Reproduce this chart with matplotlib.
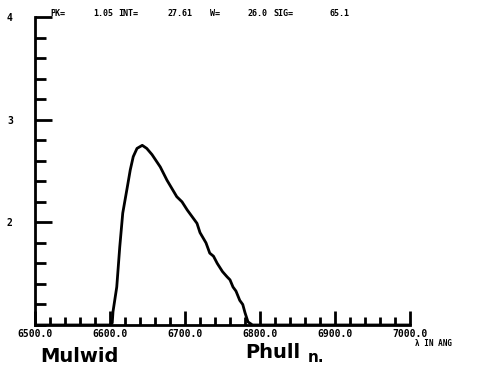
import numpy as np
import matplotlib.pyplot as plt
from matplotlib.ticker import MultipleLocator, FixedLocator

lam = [6500, 6560, 6600, 6603, 6604, 6609, 6613, 6617, 6623, 6627, 6631, 6636,
       6643, 6649, 6656, 6667, 6676, 6689, 6696, 6703, 6711, 6716, 6720, 6728,
       6733, 6738, 6743, 6750, 6756, 6760, 6764, 6768, 6773, 6777, 6780, 6784,
       6790, 6850, 7000]
inten = [1.0, 1.0, 1.0, 1.02, 1.13, 1.37, 1.76, 2.09, 2.34, 2.51, 2.64, 2.72,
         2.75, 2.72, 2.66, 2.54, 2.41, 2.25, 2.20, 2.12, 2.04, 1.99, 1.90, 1.80,
         1.70, 1.67, 1.60, 1.52, 1.47, 1.44, 1.37, 1.33, 1.24, 1.20, 1.12, 1.03,
         1.0, 1.0, 1.0]
ylabels = ["2", "3", "4"]
xlabels = ["6500.0", "6600.0", "6700.0", "6800.0", "6900.0", "7000.0"]
# kopfzeile: text und x-position in pixeln
head_txt = ["PK=", "1.05", "INT=", "27.61", "W=", "26.0", "SIG=", "65.1"]
head_px = [50, 93, 118, 168, 210, 247, 273, 330]

W, H = 478, 374
fig = plt.figure(figsize=(W / 100, H / 100), dpi=100)
ax = fig.add_axes([35 / W, 1 - 325 / H, 375 / W, 308 / H])

ax.plot(lam, inten, "k-", lw=2.0)

ax.set_xlim(6500, 7000)
ax.set_ylim(1, 4)
for s in ["top", "right"]:
    ax.spines[s].set_visible(False)
ax.spines["left"].set_linewidth(2)
ax.spines["bottom"].set_linewidth(2)

ax.xaxis.set_major_locator(FixedLocator([6500, 6600, 6700, 6800, 6900, 7000]))
ax.xaxis.set_minor_locator(MultipleLocator(20))
ax.set_xticklabels(xlabels)
ax.yaxis.set_major_locator(FixedLocator([2, 3, 4]))
ax.yaxis.set_minor_locator(MultipleLocator(0.2))
ax.set_yticklabels(ylabels)

ax.tick_params(axis="x", which="major", direction="in", length=10, width=2,
               pad=3, labelsize=7)
ax.tick_params(axis="x", which="minor", direction="in", length=6, width=2)
ax.tick_params(axis="y", which="major", direction="in", length=12, width=2,
               pad=16, labelsize=7)
ax.tick_params(axis="y", which="minor", direction="in", length=8, width=2)
for t in ax.get_xticklabels() + ax.get_yticklabels():
    t.set_fontfamily("DejaVu Sans Mono")
    t.set_fontweight("bold")

for txt, px in zip(head_txt, head_px):
    fig.text(px / W, 1 - 14 / H, txt, fontsize=6, fontweight="bold",
             family="DejaVu Sans Mono", va="center", ha="left")
fig.text(415 / W, 1 - 344 / H, "λ IN ANG", fontsize=5.5, fontweight="bold",
         family="DejaVu Sans Mono", va="center", ha="left")

# handschrift unter der achse
fig.text(40 / W, 1 - 356 / H, "Mulwid", fontsize=14, fontweight="heavy",
         family="DejaVu Sans", va="center", ha="left")
fig.text(245 / W, 1 - 352 / H, "Phull", fontsize=14, fontweight="heavy",
         family="DejaVu Sans", va="center", ha="left")
fig.text(308 / W, 1 - 358 / H, "n.", fontsize=11, fontweight="heavy",
         family="DejaVu Sans", va="center", ha="left")

fig.savefig("out.png", dpi=100, facecolor="white")
